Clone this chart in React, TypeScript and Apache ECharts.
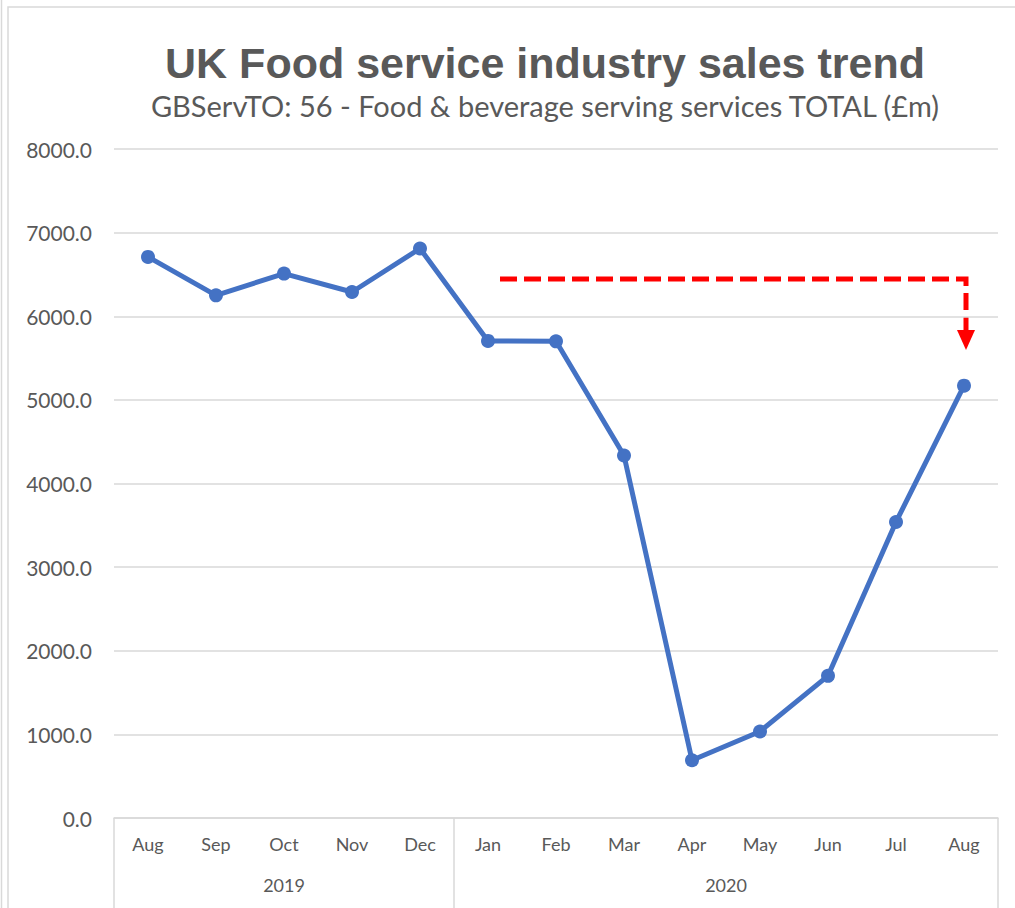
import React, { useEffect, useRef } from "react";
import * as echarts from "echarts";

const months = ["Aug", "Sep", "Oct", "Nov", "Dec", "Jan", "Feb", "Mar", "Apr", "May", "Jun", "Jul", "Aug"];
const sales = [6710, 6250, 6510, 6290, 6810, 5705, 5700, 4335, 690, 1035, 1700, 3540, 5170];
const years = ["2019", "2020"];
const yearMonthCounts = [5, 8];
const yTicks = { min: 0, max: 8000, interval: 1000 };
const titleText = "UK Food service industry sales trend";
const subtitleText = "GBServTO: 56 - Food & beverage serving services TOTAL (£m)";

// Build half-step categories for the year row: boundaries and centres
const halfSteps: string[] = [];
const boundaryIdx: number[] = [0];
{
  const total = months.length * 2 + 1;
  for (let i = 0; i < total; i++) halfSteps.push("");
  let start = 0;
  years.forEach((y, k) => {
    const n = yearMonthCounts[k];
    halfSteps[start + n] = y;
    start += n * 2;
    boundaryIdx.push(start);
  });
}

const GRAY = "#595959";
const GRID = "#d9d9d9";
const FONT = "Lato, 'Noto Sans', sans-serif";

export default function App() {
  const ref = useRef<HTMLDivElement>(null);
  useEffect(() => {
    document.body.style.margin = "0";
    const chart = echarts.init(ref.current!, null, { renderer: "svg" });
    chart.setOption({
      animation: false,
      backgroundColor: "#ffffff",
      grid: { left: 114, right: 17, top: 149, bottom: 90, containLabel: false },
      xAxis: [
        {
          type: "category",
          data: months,
          boundaryGap: true,
          axisLine: { show: true, lineStyle: { color: GRID, width: 1.5 } },
          axisTick: { show: false },
          axisLabel: { color: GRAY, fontSize: 18, fontFamily: FONT, margin: 17, interval: 0 },
          splitLine: { show: false },
        },
        {
          type: "category",
          data: halfSteps,
          boundaryGap: false,
          position: "bottom",
          axisLine: { show: false },
          axisTick: {
            show: true,
            length: 95,
            interval: (idx: number) => boundaryIdx.indexOf(idx) >= 0,
            lineStyle: { color: GRID, width: 1.5 },
          },
          axisLabel: {
            show: true,
            interval: (idx: number, v: string) => v !== "",
            color: GRAY,
            fontSize: 18,
            fontFamily: FONT,
            margin: 58,
          },
          splitLine: { show: false },
        },
      ],
      yAxis: {
        type: "value",
        min: yTicks.min,
        max: yTicks.max,
        interval: yTicks.interval,
        axisLine: { show: false },
        axisTick: { show: false },
        axisLabel: {
          color: GRAY,
          fontSize: 21,
          fontFamily: FONT,
          margin: 22,
          formatter: (v: number) => v.toFixed(1),
        },
        splitLine: { lineStyle: { color: GRID, width: 1.5 } },
      },
      series: [
        {
          type: "line",
          data: sales,
          xAxisIndex: 0,
          symbol: "circle",
          symbolSize: 14,
          lineStyle: { color: "#4472C4", width: 5 },
          itemStyle: { color: "#4472C4" },
        },
      ],
      graphic: [
        { type: "line", shape: { x1: 1.5, y1: 0, x2: 1.5, y2: 908 }, style: { stroke: GRID, lineWidth: 1.5 } },
        { type: "rect", shape: { x: 8, y: 7, width: 1030, height: 940 }, style: { fill: "none", stroke: GRID, lineWidth: 1.5 } },
        {
          type: "text",
          x: 545,
          y: 63,
          style: {
            text: titleText,
            fontFamily: "'Liberation Sans', Arial, sans-serif",
            fontWeight: "bold",
            fontSize: 43,
            fill: GRAY,
            textAlign: "center",
            textVerticalAlign: "middle",
          },
        },
        {
          type: "text",
          x: 545,
          y: 105,
          style: {
            text: subtitleText,
            fontFamily: FONT,
            fontSize: 29,
            fill: GRAY,
            textAlign: "center",
            textVerticalAlign: "middle",
          },
        },
        {
          type: "polyline",
          shape: { points: [[500, 279], [966, 279], [966, 332]] },
          style: { stroke: "#ff0000", lineWidth: 5, lineDash: [17, 7], fill: "none" },
        },
        {
          type: "polygon",
          shape: { points: [[957, 330], [975, 330], [966, 350]] },
          style: { fill: "#ff0000" },
        },
      ],
    });
    return () => chart.dispose();
  }, []);
  return <div ref={ref} style={{ width: 1015, height: 908, position: "absolute", left: 0, top: 0 }} />;
}
